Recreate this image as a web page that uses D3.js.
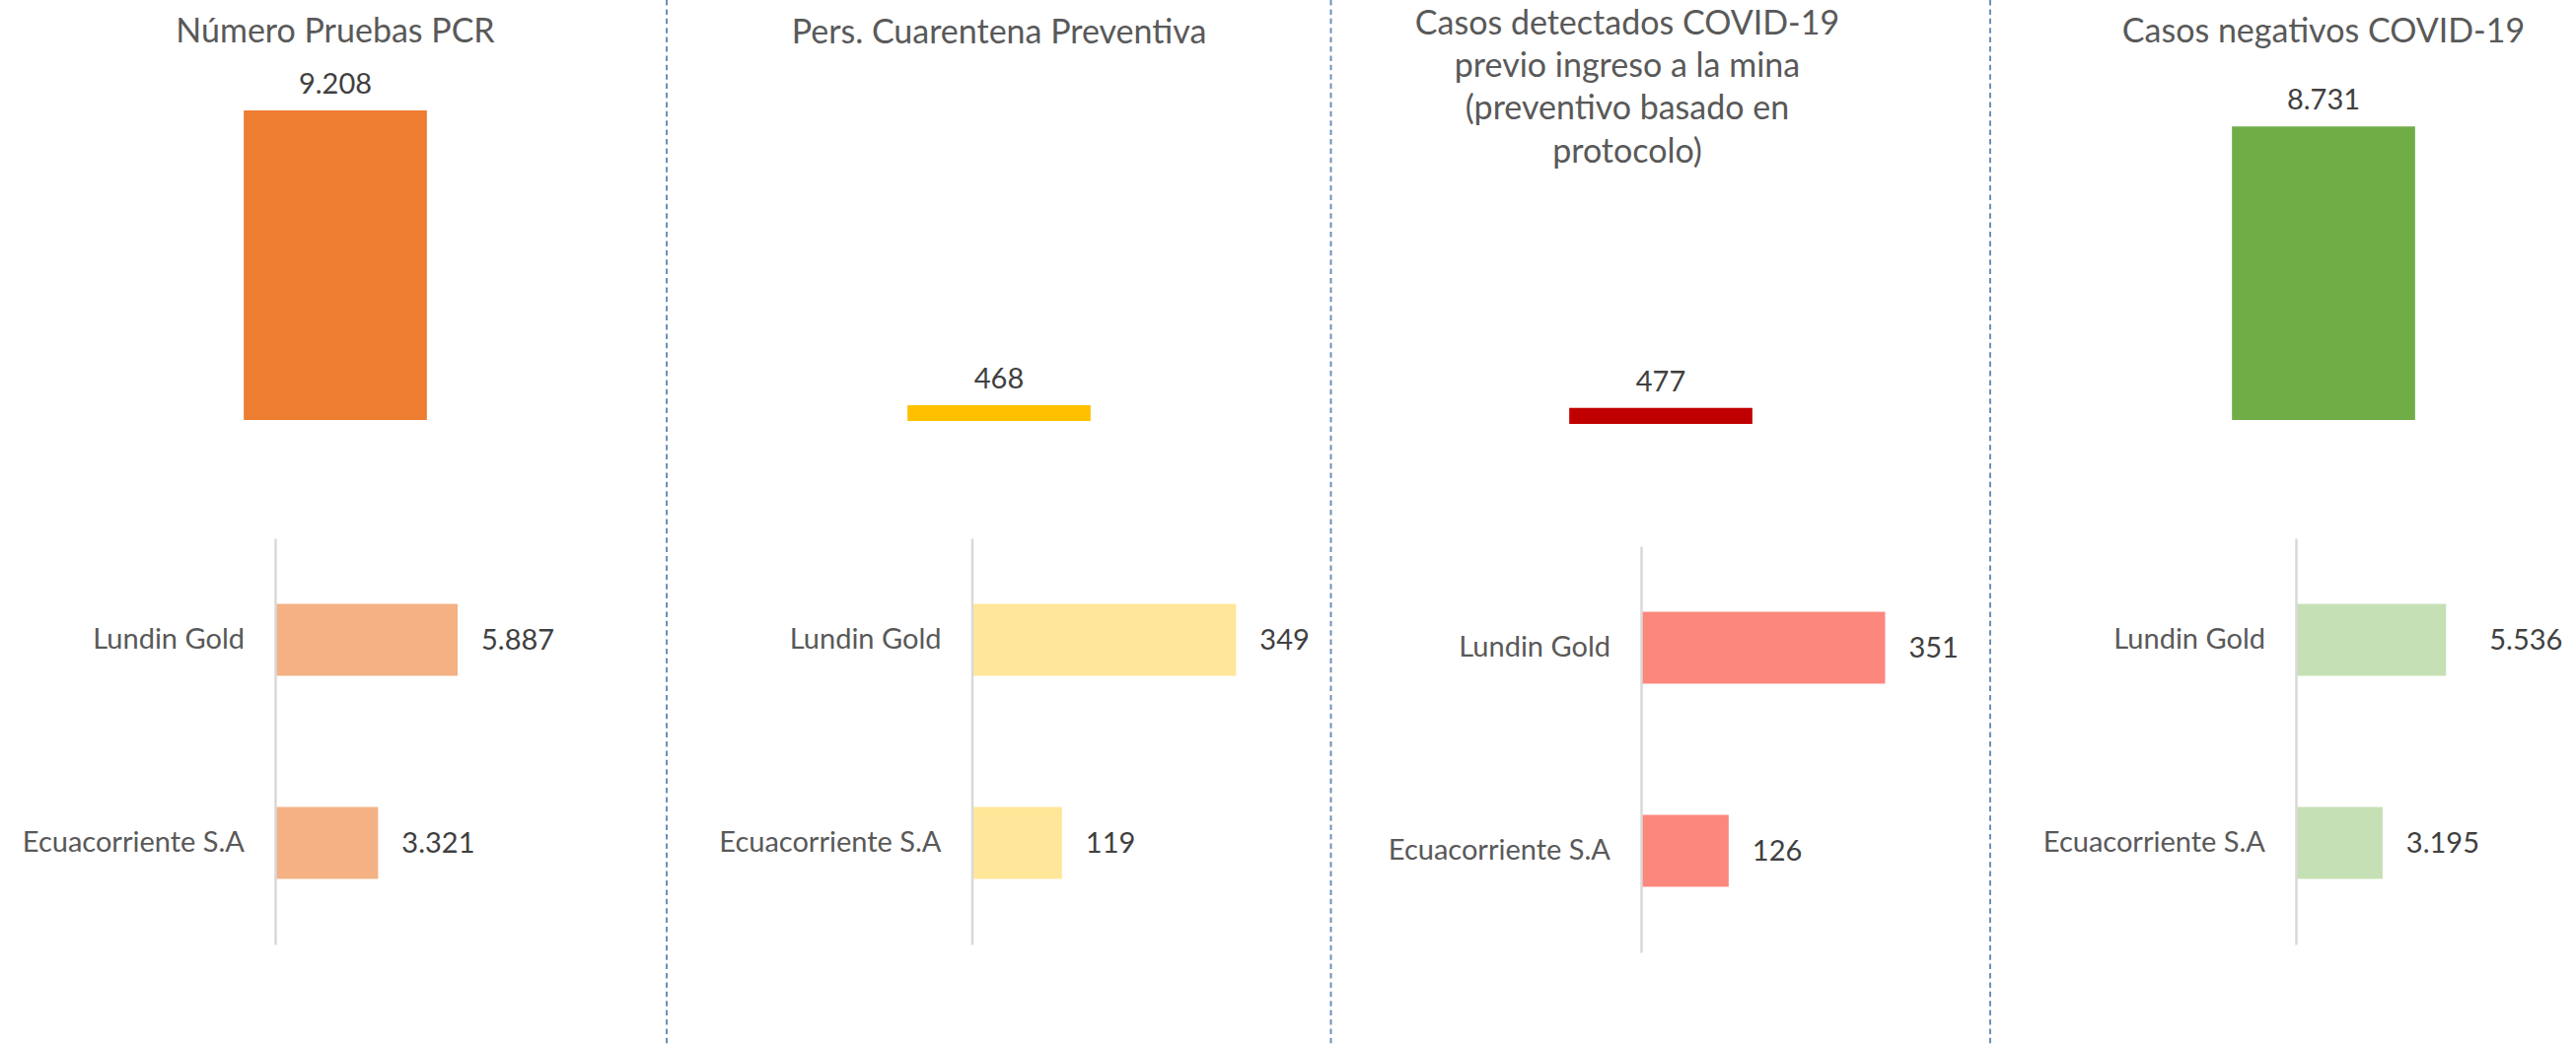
<!DOCTYPE html>
<html>
<head>
<meta charset="utf-8">
<script src="https://cdn.jsdelivr.net/npm/d3@7"></script>
<style>
  html, body { margin: 0; padding: 0; background: #ffffff; }
  svg { display: block; }
  text { font-family: Lato, "Open Sans", sans-serif; }
</style>
</head>
<body>
<svg id="chart" width="2612" height="1061"></svg>
<script>
// ---------------- DATA ----------------
const panelTitles = [
  ["Número Pruebas PCR"],
  ["Pers. Cuarentena Preventiva"],
  ["Casos detectados COVID-19", "previo ingreso a la mina", "(preventivo basado en", "protocolo)"],
  ["Casos negativos COVID-19"]
];
const totals = [9208, 468, 477, 8731];
const companies = ["Lundin Gold", "Ecuacorriente S.A"];
const lundinValues = [5887, 349, 351, 5536];
const ecuaValues = [3321, 119, 126, 3195];
const totalColors = ["#ED7D31", "#FFC000", "#C00000", "#70AD47"];
const companyColors = ["#F4B183", "#FFE699", "#FC877D", "#C5E0B4"];
const bottomAxisMax = [7000, 400, 400, 6000];

// ---------------- LAYOUT ----------------
const W = 2612, H = 1061;
const barCenters = [340, 1013, 1684, 2356];
const titleCenters = [340, 1013, 1650, 2356];
const titleBaselines = [43, 44, 35, 43];
const titleLineHeight = 43.2;
const topBase = [426, 427, 430, 426];
const topScaleHeight = 341;        // px for 10 000
const bottomAxisX = [279, 985.5, 1664, 2328];
const bottomTop = [546, 546, 554, 546];
const bottomHeight = 412;
const bottomPlotWidth = [220, 307, 282, 165];
const labelNudge = [[0, 0], [0, 0], [0, 0], [20, 0]];
const dividers = [676, 1349.5, 2018];

const fmt = d3.formatLocale({decimal: ",", thousands: ".", grouping: [3], currency: ["$", ""]}).format(",d");

const svg = d3.select("#chart");

// dashed dividers
svg.append("g").selectAll("line").data(dividers).join("line")
  .attr("x1", d => d).attr("x2", d => d)
  .attr("y1", 0).attr("y2", H)
  .attr("stroke", "#6F90B4").attr("stroke-width", 2)
  .attr("stroke-dasharray", "5.5,3.9");

totals.forEach((total, i) => {
  const g = svg.append("g");

  // title
  const t = g.append("text")
    .attr("text-anchor", "middle")
    .attr("fill", "#595959")
    .style("font-size", "34px");
  panelTitles[i].forEach((line, k) => {
    t.append("tspan").attr("x", titleCenters[i])
      .attr("y", titleBaselines[i] + k * titleLineHeight).text(line);
  });

  // top total bar
  const xTop = d3.scaleBand().domain(["total"])
    .range([barCenters[i] - 336, barCenters[i] + 336])
    .paddingInner(0.567).paddingOuter(0.567);
  const yTop = d3.scaleLinear().domain([0, 10000])
    .range([topBase[i], topBase[i] - topScaleHeight]);
  g.append("rect")
    .attr("x", xTop("total")).attr("width", xTop.bandwidth())
    .attr("y", yTop(total)).attr("height", yTop(0) - yTop(total))
    .attr("fill", totalColors[i]);
  g.append("text")
    .attr("x", xTop("total") + xTop.bandwidth() / 2)
    .attr("y", yTop(total) - 17)
    .attr("text-anchor", "middle")
    .attr("fill", "#404040")
    .style("font-size", "29px")
    .text(fmt(total));

  // bottom company bars
  const vals = [lundinValues[i], ecuaValues[i]];
  const yB = d3.scaleBand().domain(companies)
    .range([bottomTop[i], bottomTop[i] + bottomHeight])
    .paddingInner(0.646).paddingOuter(0.323);
  const xB = d3.scaleLinear().domain([0, bottomAxisMax[i]])
    .range([bottomAxisX[i], bottomAxisX[i] + bottomPlotWidth[i]]);

  g.selectAll("rect.cb").data(companies).join("rect")
    .attr("class", "cb")
    .attr("x", xB(0))
    .attr("y", d => yB(d))
    .attr("width", (d, k) => xB(vals[k]) - xB(0))
    .attr("height", yB.bandwidth())
    .attr("fill", companyColors[i]);

  g.selectAll("text.cv").data(companies).join("text")
    .attr("class", "cv")
    .attr("x", (d, k) => xB(vals[k]) + 24 + labelNudge[i][k])
    .attr("y", d => yB(d) + yB.bandwidth() / 2)
    .attr("dy", "0.35em")
    .attr("fill", "#404040")
    .style("font-size", "29px")
    .text((d, k) => fmt(vals[k]));

  const axis = g.append("g")
    .attr("transform", `translate(${bottomAxisX[i]},0)`)
    .call(d3.axisLeft(yB).tickSize(0).tickSizeOuter(0).tickPadding(31));
  axis.select(".domain").attr("stroke", "#D9D9D9").attr("stroke-width", 2.5);
  axis.selectAll(".tick text")
    .attr("fill", "#595959")
    .style("font-size", "29px")
    .style("font-family", "Lato, 'Open Sans', sans-serif");
});
</script>
</body>
</html>
